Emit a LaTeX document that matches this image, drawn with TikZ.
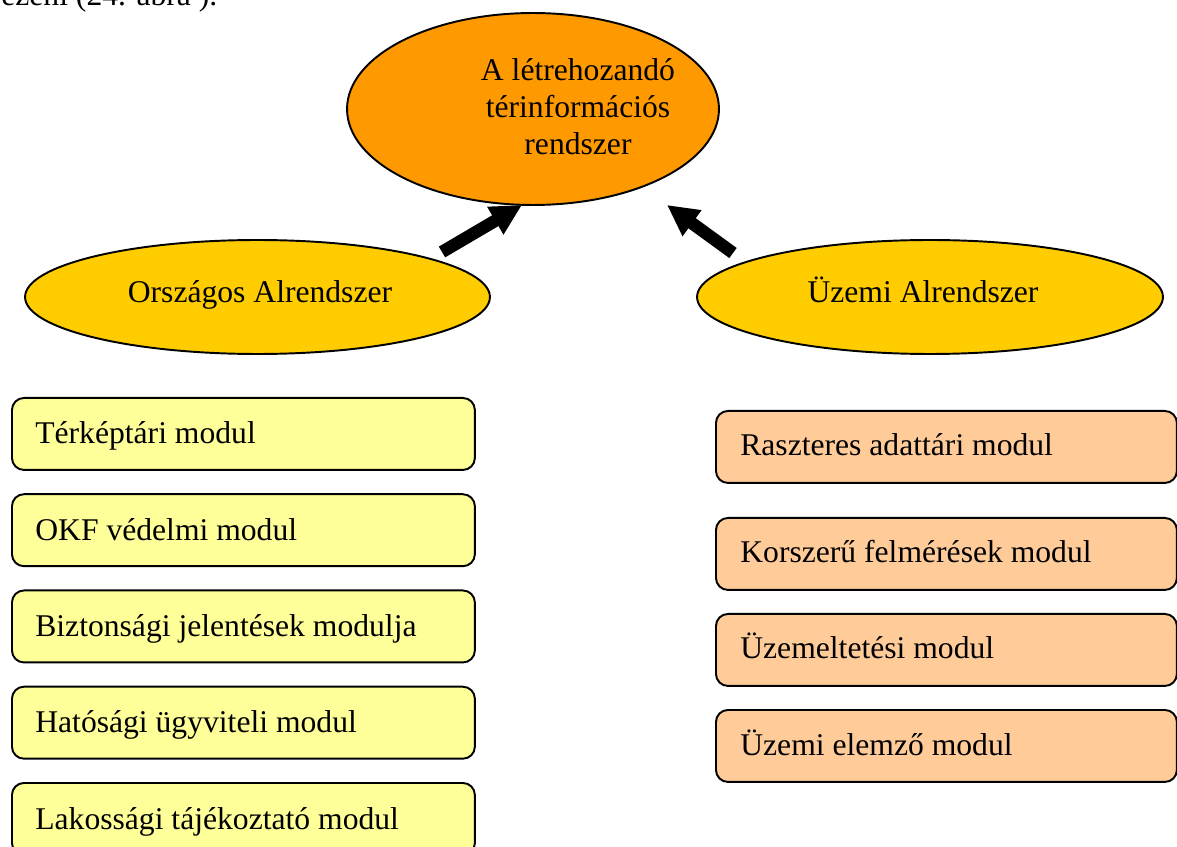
\documentclass[tikz,border=0pt]{standalone}
\usepackage{fontspec}
\setmainfont{Liberation Serif}
\usetikzlibrary{arrows.meta,shapes.geometric}
\definecolor{sysorange}{HTML}{FF9900}
\definecolor{subgold}{HTML}{FFCC00}
\definecolor{modyellow}{HTML}{FFFF99}
\definecolor{modpeach}{HTML}{FFCC99}
\tikzset{
  txt/.style={font=\fontsize{18pt}{21pt}\selectfont, inner sep=0pt},
  oval/.style={ellipse, draw=black, line width=1.1pt, inner sep=0pt},
  modbox/.style={draw=black, line width=1.1pt, rounded corners=0.24cm,
    minimum height=1.44cm, inner sep=0pt, anchor=north west},
  bigarrow/.style={line width=0.25cm, line cap=butt,
    -{Triangle[width=0.6cm,length=0.62cm]}},
}
\begin{document}
\begin{tikzpicture}[x=0.02cm, y=-0.02cm]
  \useasboundingbox (0,0) rectangle (1177,847);
  \clip (0,0) rectangle (1177,847);

  % tail of the preceding paragraph
  \node[txt, anchor=base west] (prev) at (1,6) {ezeni (24. ábra ).};

  % main system and its two subsystems
  \node[oval, fill=sysorange, minimum width=7.44cm, minimum height=3.84cm] (sys) at (533,109) {};
  \node[txt, align=center] (systxt) at (578,107) {A létrehozandó\\térinformációs\\rendszer};

  \node[oval, fill=subgold, minimum width=9.3cm, minimum height=2.28cm] (orsz) at (257.5,297) {};
  \node[txt, anchor=base] (orsztxt) at (260,303) {Országos Alrendszer};

  \node[oval, fill=subgold, minimum width=9.32cm, minimum height=2.28cm] (uzem) at (930,297) {};
  \node[txt, anchor=base] (uzemtxt) at (923,303) {Üzemi Alrendszer};

  % arrows towards the main system
  \coordinate (la) at (442,252);
  \coordinate (lb) at (522,205);
  \coordinate (ra) at (733,253);
  \coordinate (rb) at (667,205);
  \draw[bigarrow] (la) -- (lb);
  \draw[bigarrow] (ra) -- (rb);

  % modules of the national subsystem
  \foreach \i/\t in {0/Térképtári modul, 1/OKF védelmi modul,
                     2/Biztonsági jelentések modulja, 3/Hatósági ügyviteli modul,
                     4/Lakossági tájékoztató modul} {
    \node[modbox, fill=modyellow, minimum width=9.26cm] (L\i) at (11,{397+96.25*\i}) {};
    \node[txt, anchor=base west] (Lt\i) at (35,{397+96.25*\i+47}) {\t};
  }

  % modules of the plant subsystem
  \foreach \i/\y/\t in {0/410/Raszteres adattári modul, 1/517/Korszerű felmérések modul,
                        2/613/Üzemeltetési modul, 3/709/Üzemi elemző modul} {
    \node[modbox, fill=modpeach, minimum width=9.22cm] (R\i) at (715,\y) {};
    \node[txt, anchor=base west] (Rt\i) at (740,\y+46) {\t};
  }
\end{tikzpicture}
\end{document}
